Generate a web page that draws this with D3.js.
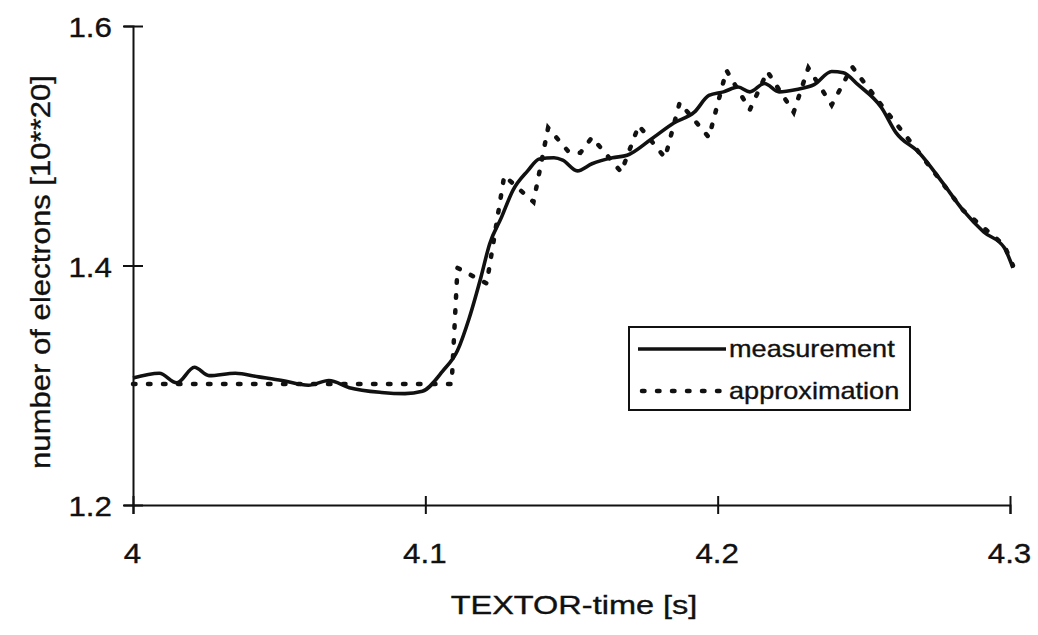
<!DOCTYPE html>
<html>
<head>
<meta charset="utf-8">
<script src="https://cdn.jsdelivr.net/npm/d3@7"></script>
<style>
  body { margin: 0; background: #fff; }
  text { font-family: Arial, "Liberation Sans", sans-serif; fill: #111; stroke: #111; stroke-width: 0.35px; }
</style>
</head>
<body>
<div id="chart"></div>
<script>
// measurement (solid)
var measTime = [4.000, 4.009, 4.015, 4.021, 4.026, 4.035, 4.043, 4.051, 4.060, 4.067,
  4.074, 4.085, 4.093, 4.099, 4.106, 4.111, 4.115, 4.119, 4.122, 4.126,
  4.130, 4.135, 4.139, 4.144, 4.147, 4.152, 4.157, 4.164, 4.169, 4.177,
  4.185, 4.192, 4.197, 4.202, 4.207, 4.211, 4.216, 4.221, 4.227, 4.233,
  4.239, 4.243, 4.248, 4.256, 4.261, 4.269, 4.277, 4.284, 4.291, 4.298, 4.301];
var measValue = [1.306, 1.310, 1.302, 1.315, 1.308, 1.310, 1.307, 1.304, 1.300, 1.304,
  1.298, 1.294, 1.293, 1.295, 1.312, 1.329, 1.356, 1.390, 1.418, 1.440,
  1.463, 1.479, 1.489, 1.490, 1.488, 1.479, 1.485, 1.490, 1.492, 1.505,
  1.519, 1.528, 1.542, 1.545, 1.549, 1.545, 1.552, 1.545, 1.547, 1.551,
  1.562, 1.561, 1.551, 1.532, 1.511, 1.494, 1.469, 1.446, 1.428, 1.415, 1.398];

// approximation (dotted)
var approxTime = [4.000, 4.109, 4.111, 4.121, 4.127, 4.137, 4.142, 4.149, 4.153, 4.157,
  4.167, 4.173, 4.182, 4.187, 4.197, 4.203, 4.211, 4.217, 4.226, 4.231,
  4.239, 4.246, 4.256, 4.269, 4.284, 4.298, 4.301];
var approxValue = [1.301, 1.301, 1.398, 1.385, 1.475, 1.453, 1.515, 1.495, 1.494, 1.507,
  1.478, 1.517, 1.490, 1.536, 1.507, 1.563, 1.530, 1.562, 1.528, 1.565,
  1.534, 1.566, 1.534, 1.494, 1.446, 1.417, 1.400];

var xTicks = [4, 4.1, 4.2, 4.3];
var yTicks = [1.2, 1.4, 1.6];
var seriesNames = ["measurement", "approximation"];

var W = 1038, H = 635;
var svg = d3.select("#chart").append("svg")
    .attr("width", W)
    .attr("height", H);

var x = d3.scaleLinear().domain([4, 4.3]).range([133, 1010]);
var y = d3.scaleLinear().domain([1.2, 1.6]).range([505, 26]);

// the scanned lettering is wider than plain Arial, so stretch it a bit
function stretch(sel, sx) {
  sel.attr("transform", function() {
    var t = d3.select(this);
    return "translate(" + (+t.attr("x") || 0) + "," + (+t.attr("y") || 0) + ") scale(" + sx + ",1)";
  }).attr("x", 0).attr("y", 0);
}

var xAxis = svg.append("g")
    .attr("transform", "translate(0," + y(1.2) + ")")
    .call(d3.axisBottom(x).tickValues(xTicks).tickSizeOuter(0).tickSize(9).tickPadding(0)
      .tickFormat(function(d) { return d3.format("")(+d.toFixed(1)); }));

var yAxis = svg.append("g")
    .attr("transform", "translate(" + x(4) + ",0)")
    .call(d3.axisLeft(y).tickValues(yTicks).tickSizeOuter(0).tickSize(9).tickPadding(0)
      .tickFormat(d3.format(".1f")));

// ticks cross the axis on both sides
xAxis.selectAll(".tick line").attr("y1", -9).attr("y2", 9);
yAxis.selectAll(".tick line").attr("x1", -10).attr("x2", 10);
svg.selectAll(".domain, .tick line").attr("stroke", "#111").attr("stroke-width", 2);

xAxis.selectAll(".tick text")
    .attr("x", -1).attr("y", 48).attr("dy", "0.35em")
    .style("font-size", "28px")
    .call(stretch, 1.12);
yAxis.selectAll(".tick text")
    .attr("x", -21).attr("y", 1).attr("dy", "0.35em")
    .style("font-size", "28px")
    .call(stretch, 1.12);

svg.append("text")
    .attr("x", 574).attr("y", 605).attr("dy", "0.35em")
    .attr("text-anchor", "middle")
    .style("font-size", "25px")
    .text("TEXTOR-time [s]")
    .call(stretch, 1.3);

svg.append("text")
    .attr("transform", "translate(40,272) rotate(-90) scale(1.11,1)")
    .attr("dy", "0.35em")
    .attr("text-anchor", "middle")
    .style("font-size", "28px")
    .text("number of electrons [10**20]");

var line = d3.line()
    .x(function(d) { return x(d[0]); })
    .y(function(d) { return y(d[1]); });

svg.append("path")
    .datum(d3.zip(measTime, measValue))
    .attr("fill", "none")
    .attr("stroke", "#111")
    .attr("stroke-width", 3.6)
    .attr("stroke-linejoin", "round")
    .attr("d", line.curve(d3.curveMonotoneX));

svg.append("path")
    .datum(d3.zip(approxTime, approxValue))
    .attr("fill", "none")
    .attr("stroke", "#111")
    .attr("stroke-width", 4.5)
    .attr("stroke-linecap", "round")
    .attr("stroke-dasharray", "2.5,12.5")
    .attr("d", line.curve(d3.curveLinear));

// legend
var lg = svg.append("g");
lg.append("rect")
    .attr("x", 629).attr("y", 327)
    .attr("width", 281).attr("height", 83)
    .attr("fill", "#fff")
    .attr("stroke", "#111").attr("stroke-width", 2);

var rowY = [349, 391];
seriesNames.forEach(function(name, i) {
  lg.append("line")
      .attr("x1", i === 0 ? 638 : 642).attr("x2", 726)
      .attr("y1", rowY[i]).attr("y2", rowY[i])
      .attr("stroke", "#111")
      .attr("stroke-width", i === 0 ? 3.6 : 4.5)
      .attr("stroke-linecap", i === 0 ? "butt" : "round")
      .attr("stroke-dasharray", i === 0 ? null : "2.5,12.5");
  lg.append("text")
      .attr("x", 729).attr("y", rowY[i]).attr("dy", "0.35em")
      .style("font-size", "24px")
      .text(name)
      .call(stretch, 1.13);
});
</script>
</body>
</html>
